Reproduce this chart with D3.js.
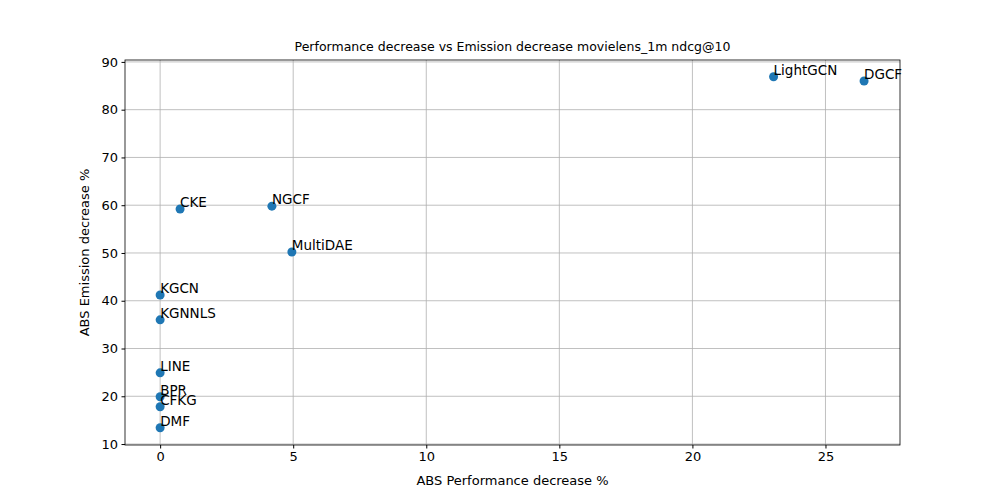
<!DOCTYPE html>
<html><head><meta charset="utf-8">
<script src="https://cdn.jsdelivr.net/npm/d3@7"></script>
<style>body{margin:0;background:#fff}text{font-family:"DejaVu Sans",sans-serif}</style>
</head><body><div id="chart"></div>
<script>
var models = ["LightGCN","DGCF","CKE","NGCF","MultiDAE","KGCN","KGNNLS","LINE","BPR","CFKG","DMF"];
var perfDecrease = [23.05,26.45,0.75,4.2,4.95,0,0,0,0,0,0];
var emisDecrease = [86.9,86.0,59.2,59.8,50.2,41.2,36.0,24.9,19.9,17.8,13.4];
var xTicks = [0,5,10,15,20,25];
var yTicks = [10,20,30,40,50,60,70,80,90];

var W=1000,H=500,L=125,R=900,T=60,B=445;
var svg=d3.select("#chart").append("svg").attr("width",W).attr("height",H);
var x=d3.scaleLinear().domain([-1.32,27.8]).range([L,R]);
var y=d3.scaleLinear().domain([9.8,90.4]).range([B,T]);

// grid
svg.append("g").selectAll("line").data(xTicks).join("line")
  .attr("x1",d=>x(d)).attr("x2",d=>x(d)).attr("y1",T).attr("y2",B)
  .attr("stroke","#b0b0b0").attr("stroke-width",0.8);
svg.append("g").selectAll("line").data(yTicks).join("line")
  .attr("x1",L).attr("x2",R).attr("y1",d=>y(d)).attr("y2",d=>y(d))
  .attr("stroke","#b0b0b0").attr("stroke-width",0.8);

var xa=svg.append("g").attr("transform","translate(0,"+B+")")
  .call(d3.axisBottom(x).tickValues(xTicks).tickSize(3.5).tickPadding(3.5));
var ya=svg.append("g").attr("transform","translate("+L+",0)")
  .call(d3.axisLeft(y).tickValues(yTicks).tickSize(3.5).tickPadding(3.5));
[xa,ya].forEach(function(a){
  a.selectAll("text").attr("font-size",13).attr("fill","#000").style("font-family","DejaVu Sans");
  a.select(".domain").remove();
});
svg.append("rect").attr("x",L).attr("y",T).attr("width",R-L).attr("height",B-T)
  .attr("fill","none").attr("stroke","#000").attr("stroke-width",0.8);

svg.selectAll("circle.pt").data(models).join("circle").attr("class","pt")
  .attr("cx",(d,i)=>x(perfDecrease[i])).attr("cy",(d,i)=>y(emisDecrease[i]))
  .attr("r",4.5).attr("fill","#1f77b4");
svg.selectAll("text.lab").data(models).join("text").attr("class","lab")
  .attr("x",(d,i)=>x(perfDecrease[i])).attr("y",(d,i)=>y(emisDecrease[i])-2)
  .attr("font-size",13.5).text(d=>d);

svg.append("text").attr("x",(L+R)/2).attr("y",T-9).attr("text-anchor","middle")
  .attr("font-size",12.5).text("Performance decrease vs Emission decrease movielens_1m ndcg@10");
svg.append("text").attr("x",(L+R)/2).attr("y",485).attr("text-anchor","middle")
  .attr("font-size",13).text("ABS Performance decrease %");
svg.append("text").attr("transform","translate(89,"+((T+B)/2)+") rotate(-90)")
  .attr("text-anchor","middle").attr("font-size",13).text("ABS Emission decrease %");
</script></body></html>
